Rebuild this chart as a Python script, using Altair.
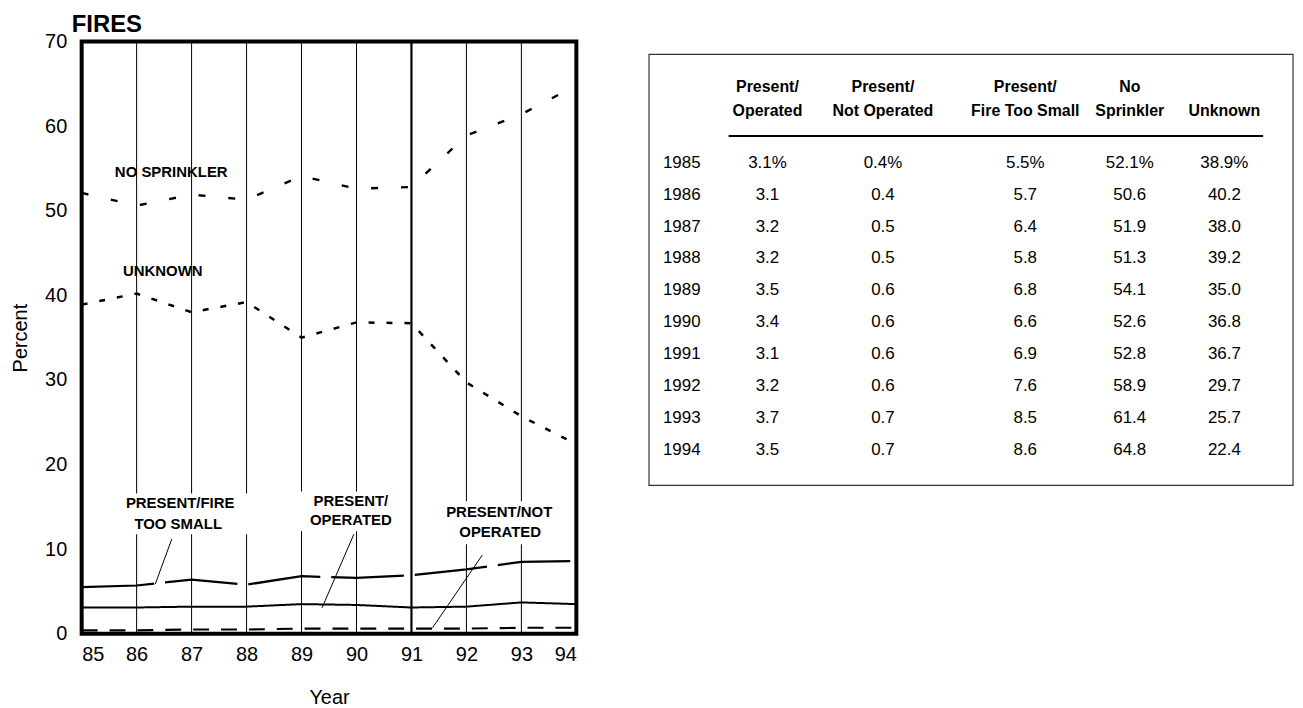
import altair as alt
import pandas as pd

# ---------------- data ----------------
years = [1985, 1986, 1987, 1988, 1989, 1990, 1991, 1992, 1993, 1994]
present_operated = [3.1, 3.1, 3.2, 3.2, 3.5, 3.4, 3.1, 3.2, 3.7, 3.5]
present_not_operated = [0.4, 0.4, 0.5, 0.5, 0.6, 0.6, 0.6, 0.6, 0.7, 0.7]
present_fire_too_small = [5.5, 5.7, 6.4, 5.8, 6.8, 6.6, 6.9, 7.6, 8.5, 8.6]
no_sprinkler = [52.1, 50.6, 51.9, 51.3, 54.1, 52.6, 52.8, 58.9, 61.4, 64.8]
unknown = [38.9, 40.2, 38.0, 39.2, 35.0, 36.8, 36.7, 29.7, 25.7, 22.4]

series_names = ["Present/Operated", "Present/Not Operated",
                "Present/Fire Too Small", "No Sprinkler", "Unknown"]
series_values = [present_operated, present_not_operated,
                 present_fire_too_small, no_sprinkler, unknown]

y_ticks = [0, 10, 20, 30, 40, 50, 60, 70]
grid_years = [1986, 1987, 1988, 1989, 1990, 1991, 1992, 1993]

header_line1 = ["Present/", "Present/", "Present/", "No", ""]
header_line2 = ["Operated", "Not Operated", "Fire Too Small", "Sprinkler", "Unknown"]

# ---------------- styles ----------------
FONT = "Liberation Sans"
dashes = [[1, 0], [16, 12], [73, 11], [7, 23], [6, 12]]
widths = [2, 2.5, 2.5, 2.5, 2.5]

W, H = 497, 595

rows = []
for name, vals in zip(series_names, series_values):
    for yr, v in zip(years, vals):
        rows.append({"series": name, "year": yr, "value": v})
lines_df = pd.DataFrame(rows)

x_scale = alt.Scale(domain=[1985, 1994], nice=False, zero=False)
y_scale = alt.Scale(domain=[0, 70], nice=False)

grid = alt.Chart(pd.DataFrame({"year": grid_years})).mark_rule(color="black").encode(
    x=alt.X("year:Q", scale=x_scale, title="Year",
            axis=alt.Axis(values=years, labelExpr="substring(toString(datum.value), 2)",
                          grid=False, ticks=False, domain=False, labelFont=FONT,
                          labelFontSize=20, labelPadding=11, labelColor="black",
                          titleFont=FONT, titleFontSize=20, titleFontWeight="normal",
                          titlePadding=23, titleColor="black")),
    strokeWidth=alt.condition("datum.year == 1991", alt.value(2.2), alt.value(1)),
)

lines = alt.Chart(lines_df).mark_line(color="black", strokeCap="butt").encode(
    x=alt.X("year:Q", scale=x_scale),
    y=alt.Y("value:Q", scale=y_scale, title="Percent",
            axis=alt.Axis(values=y_ticks, grid=False, ticks=False, domain=False,
                          labelFont=FONT, labelFontSize=20, labelPadding=15,
                          labelColor="black", titleFont=FONT, titleFontSize=20,
                          titleFontWeight="normal", titlePadding=14, titleColor="black")),
    detail="series:N",
    strokeDash=alt.StrokeDash("series:N", scale=alt.Scale(domain=series_names, range=dashes), legend=None),
    strokeWidth=alt.StrokeWidth("series:N", scale=alt.Scale(domain=series_names, range=widths), legend=None),
)

# annotation boxes (white, interrupt grid lines), pixel coords in plot area
boxes_df = pd.DataFrame({
    "x": [41, 217, 359], "x2": [167, 324, 479],
    "y": [454, 452, 462], "y2": [495, 492, 505],
})
boxes = alt.Chart(boxes_df).mark_rect(color="white").encode(
    x=alt.X("x:Q", scale=None), x2="x2:Q",
    y=alt.Y("y:Q", scale=None), y2="y2:Q",
)

labels_df = pd.DataFrame({
    "text": ["NO SPRINKLER", "UNKNOWN", "PRESENT/FIRE", "TOO SMALL",
             "PRESENT/", "OPERATED", "PRESENT/NOT", "OPERATED"],
    "x": [90, 81.5, 99, 97, 270.5, 270.5, 419.5, 420.5],
    "y": [131, 231, 463.5, 485, 461.5, 481, 472.5, 492.5],
})
labels = alt.Chart(labels_df).mark_text(
    font=FONT, fontSize=15, fontWeight="bold", color="black",
    align="center", baseline="middle").encode(
    x=alt.X("x:Q", scale=None), y=alt.Y("y:Q", scale=None), text="text:N")

leaders_df = pd.DataFrame({
    "x": [90.5, 273.5, 402.5], "y": [500, 495, 516],
    "x2": [74, 241.5, 352.5], "y2": [545, 569, 589],
})
leaders = alt.Chart(leaders_df).mark_rule(color="black", strokeWidth=1).encode(
    x=alt.X("x:Q", scale=None), x2="x2:Q",
    y=alt.Y("y:Q", scale=None), y2="y2:Q",
)

fires = alt.Chart(pd.DataFrame({"t": ["FIRES"]})).mark_text(
    font=FONT, fontSize=24, fontWeight="bold", color="black",
    align="left", baseline="alphabetic").encode(
    text="t:N", x=alt.value(-10), y=alt.value(-10))

left = alt.layer(grid, boxes, lines, leaders, labels, fires).properties(
    width=W, height=H,
    view=alt.ViewBackground(stroke="black", strokeWidth=4, fill="white"),
)

# ---------------- table ----------------
col_x = [119, 235, 378, 483, 578]
hdr_df = pd.DataFrame({"px": col_x, "l1": header_line1, "l2": header_line2})
cells = []
for i, yr in enumerate(years):
    for j, vals in enumerate(series_values):
        cells.append({"year": str(yr), "px": col_x[j],
                      "txt": f"{vals[i]:.1f}" + ("%" if i == 0 else "")})
cells_df = pd.DataFrame(cells)
row_scale = alt.Scale(type="point", domain=[str(y) for y in years], range=[122, 410], padding=0)

box = alt.Chart(pd.DataFrame({"a": [0]})).mark_rect(
    filled=False, stroke="#333", strokeWidth=1.2).encode(
    x=alt.value(0), x2=alt.value(647), y=alt.value(13), y2=alt.value(446))

h1 = alt.Chart(hdr_df).mark_text(font=FONT, fontSize=16, fontWeight="bold", color="black",
                                 align="center", baseline="middle").encode(
    x=alt.X("px:Q", scale=None), y=alt.value(46), text="l1:N")
h2 = alt.Chart(hdr_df).mark_text(font=FONT, fontSize=16, fontWeight="bold", color="black",
                                 align="center", baseline="middle").encode(
    x=alt.X("px:Q", scale=None), y=alt.value(70), text="l2:N")
hrule = alt.Chart(pd.DataFrame({"a": [0]})).mark_rule(color="black", strokeWidth=2).encode(
    x=alt.value(80), x2=alt.value(617), y=alt.value(95))

rowlab = alt.Chart(pd.DataFrame({"year": [str(y) for y in years]})).mark_text(
    font=FONT, fontSize=17, color="black", align="left", baseline="middle").encode(
    x=alt.value(14), y=alt.Y("year:N", scale=row_scale, axis=None), text="year:N")
vals_txt = alt.Chart(cells_df).mark_text(
    font=FONT, fontSize=17, color="black", align="center", baseline="middle").encode(
    x=alt.X("px:Q", scale=None), y=alt.Y("year:N", scale=row_scale, axis=None), text="txt:N")

table = alt.layer(box, h1, h2, hrule, rowlab, vals_txt).properties(
    width=647, height=480,
    view=alt.ViewBackground(stroke="transparent", fill="white"),
)

chart = alt.hconcat(left, table, spacing=64).properties(
    padding={"left": 0, "top": 1, "right": 0, "bottom": 0},
    background="white",
)

chart.save("out.html", embed_options={"renderer": "svg", "actions": False})
